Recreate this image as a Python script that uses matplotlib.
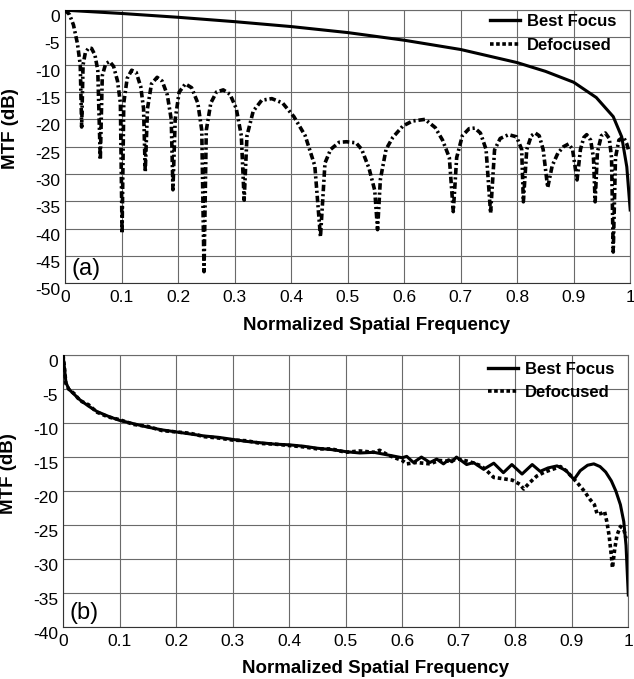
import numpy as np
import matplotlib.pyplot as plt
from matplotlib.lines import Line2D

plt.rcParams['font.family'] = ['Liberation Sans', 'DejaVu Sans']
plt.rcParams['axes.unicode_minus'] = False

# ---- panel (a): MTF at best focus vs defocused ----
a_best_x = [0, 0.1, 0.2, 0.3, 0.4, 0.5, 0.6, 0.7, 0.8, 0.85, 0.9, 0.94, 0.97, 0.985, 0.994, 1.0]
a_best_y = [0, -0.6, -1.3, -2.1, -3.0, -4.1, -5.5, -7.2, -9.6, -11.2, -13.2, -16.0, -19.5, -23.2, -28.7, -36.6]

a_defoc_x = [0, 0.008, 0.015, 0.022, 0.027, 0.0295, 0.032, 0.036, 0.042, 0.047, 0.053, 0.058, 0.0625,
             0.066, 0.072, 0.079, 0.086, 0.093, 0.098, 0.101, 0.104, 0.110, 0.118, 0.126, 0.134, 0.139,
             0.142, 0.146, 0.153, 0.163, 0.172, 0.181, 0.188, 0.191, 0.195, 0.202, 0.213, 0.224, 0.235,
             0.242, 0.246, 0.250, 0.258, 0.268, 0.280, 0.292, 0.303, 0.312, 0.317, 0.322, 0.333, 0.348,
             0.366, 0.385, 0.405, 0.425, 0.442, 0.452, 0.460, 0.470, 0.485, 0.498, 0.515, 0.525, 0.538,
             0.548, 0.553, 0.558, 0.568, 0.580, 0.598, 0.615, 0.637, 0.655, 0.668, 0.680, 0.687, 0.693,
             0.703, 0.715, 0.725, 0.735, 0.745, 0.753, 0.760, 0.770, 0.785, 0.799, 0.808, 0.811, 0.817,
             0.825, 0.832, 0.839, 0.846, 0.854, 0.862, 0.872, 0.882, 0.891, 0.898, 0.906, 0.912, 0.918,
             0.923, 0.930, 0.935, 0.938, 0.942, 0.949, 0.956, 0.963, 0.967, 0.970, 0.974, 0.980, 0.988,
             0.994, 0.998]
a_defoc_y = [0, -0.8, -2.7, -6.1, -10, -21.4, -10, -7.8, -6.9, -7.0, -8.2, -11, -27.4,
             -12, -9.8, -9.4, -10.3, -13, -17, -40.9, -17, -12.5, -11, -11.4, -14, -18,
             -29.6, -18, -13.5, -12.3, -13, -15.5, -20, -32.9, -20, -15, -13.5, -14.2, -17,
             -22, -47.9, -22, -17, -15, -14.6, -15.4, -18, -23, -34.8, -23, -18.5, -16.5,
             -16.2, -17, -19.5, -23, -28.5, -41.5, -28, -25.5, -24.2, -24.1, -24.3, -25.5, -29,
             -33, -40.2, -31, -25.5, -23.3, -21.2, -20.3, -20.0, -21.5, -23.8, -27, -36.9, -27,
             -23, -21.7, -21.6, -22.5, -25.5, -37.2, -25.6, -23.5, -22.8, -23.2, -25.5, -35.1, -25.5,
             -23, -22.5, -23, -25.5, -32.5, -28.5, -26.2, -25, -24.5, -25.5, -31.1, -25.5, -23.3,
             -22.8, -23.8, -27, -35.1, -26, -23, -22.5, -23.5, -27, -44.3, -27, -23.8, -23.2,
             -24.5, -26]

# ---- panel (b) ----
b_best_x = [0, 0.002, 0.005, 0.010, 0.02, 0.03, 0.045, 0.06, 0.08, 0.1, 0.125, 0.15, 0.175, 0.2,
            0.225, 0.25, 0.275, 0.3, 0.325, 0.35, 0.375, 0.4, 0.425, 0.45, 0.475, 0.5, 0.525, 0.55,
            0.575, 0.6, 0.608, 0.620, 0.634, 0.649, 0.661, 0.673, 0.682, 0.688, 0.696, 0.714, 0.726,
            0.744, 0.762, 0.779, 0.794, 0.812, 0.830, 0.844, 0.858, 0.874, 0.89, 0.904, 0.915, 0.928,
            0.939, 0.950, 0.960, 0.970, 0.978, 0.986, 0.992, 0.996, 1.0]
b_best_y = [0, -1.5, -4.0, -5.0, -5.8, -6.6, -7.5, -8.3, -9.0, -9.6, -10.1, -10.6, -11.0, -11.3,
            -11.6, -11.9, -12.1, -12.4, -12.7, -12.9, -13.1, -13.2, -13.4, -13.7, -13.9, -14.2, -14.4, -14.3,
            -14.7, -15.1, -14.9, -15.8, -15.0, -15.8, -15.3, -16.0, -15.4, -15.7, -15.0, -16.1, -15.8,
            -16.8, -15.9, -17.3, -16.1, -17.5, -16.1, -17.1, -16.6, -16.3, -17.0, -18.3, -17.0, -16.2,
            -16.0, -16.4, -17.2, -18.5, -20.0, -22.0, -24.5, -28.0, -35.3]

b_defoc_x = [0, 0.002, 0.005, 0.010, 0.02, 0.03, 0.045, 0.06, 0.08, 0.1, 0.125, 0.15, 0.175, 0.2,
             0.225, 0.25, 0.275, 0.3, 0.325, 0.35, 0.375, 0.4, 0.425, 0.45, 0.475, 0.5, 0.525, 0.55,
             0.56, 0.575, 0.59, 0.600, 0.608, 0.625, 0.649, 0.665, 0.680, 0.700, 0.720, 0.740, 0.752,
             0.762, 0.780, 0.795, 0.808, 0.815, 0.825, 0.838, 0.852, 0.866, 0.880, 0.890, 0.900, 0.912,
             0.922, 0.932, 0.940, 0.945, 0.952, 0.958, 0.962, 0.966, 0.970, 0.972, 0.976, 0.980, 0.986,
             0.992, 0.996]
b_defoc_y = [0, -1.5, -4.2, -5.0, -5.7, -6.7, -7.3, -8.4, -9.1, -9.5, -10.2, -10.5, -11.1, -11.3,
             -11.5, -12.0, -12.2, -12.5, -12.6, -13.0, -13.1, -13.3, -13.5, -13.8, -13.8, -14.3, -14.1, -14.3,
             -14.0, -14.7, -15.2, -15.5, -16.0, -15.8, -16.0, -15.5, -15.6, -15.3, -15.7, -16.3, -17.2,
             -18.0, -18.2, -18.4, -19.0, -19.7, -18.8, -17.8, -17.2, -16.8, -16.4, -17.0, -17.9, -19.0,
             -20.0, -21.2, -22.0, -23.4, -23.3, -23.0, -24.5, -26.5, -29.5, -31.3, -28.5, -26.5, -25.2,
             -25.6, -27.0]

x_ticks = [0, 0.1, 0.2, 0.3, 0.4, 0.5, 0.6, 0.7, 0.8, 0.9, 1]
x_ticklabels = ['0', '0.1', '0.2', '0.3', '0.4', '0.5', '0.6', '0.7', '0.8', '0.9', '1']

fig = plt.figure(figsize=(6.34, 6.79), dpi=100)
ax_a = fig.add_axes([0.1025, 0.583, 0.8915, 0.402])
ax_b = fig.add_axes([0.0995, 0.0766, 0.8915, 0.4004])

grid_col = '#6a6a6a'


def style_axes(ax, ymin, panel_label, label_y, leg_top):
    ax.set_xlim(0, 1)
    ax.set_ylim(ymin, 0)
    ax.set_xticks(x_ticks)
    ax.set_xticklabels(x_ticklabels)
    ax.set_yticks(np.arange(ymin, 1, 5))
    ax.tick_params(length=0, labelsize=12.5, colors='black')
    ax.tick_params(axis='x', pad=5)
    ax.tick_params(axis='y', pad=3.5)
    for lab in ax.get_yticklabels():
        lab.set_va('top')
    ax.grid(True, color=grid_col, lw=0.8)
    for sp in ax.spines.values():
        sp.set_color(grid_col)
        sp.set_linewidth(0.8)
    ax.spines['left'].set_color('#333333')
    ax.spines['bottom'].set_color('#333333')
    ax.set_xlabel('Normalized Spatial Frequency', fontsize=13.5, fontweight='bold', va='top')
    ax.xaxis.set_label_coords(0.552, -0.123)
    ax.set_ylabel('MTF (dB)', fontsize=13.5, fontweight='bold')
    ax.yaxis.set_label_coords(-0.082, label_y)
    ax.text(0.012, 0.03, panel_label, transform=ax.transAxes, fontsize=17, va='baseline')
    handles = [Line2D([], [], color='black', lw=2.4),
               Line2D([], [], color='black', lw=2.6, linestyle=(0, (1, 0.7)))]
    ax.legend(handles, ['Best Focus', 'Defocused'], loc='upper left',
              bbox_to_anchor=(0.752, leg_top), frameon=False, borderpad=0, borderaxespad=0,
              handlelength=1.8, handletextpad=0.4, labelspacing=0.5,
              prop={'weight': 'bold', 'size': 12})


ax_a.plot(a_best_x, a_best_y, color='black', lw=2.2, zorder=3)
ax_a.plot(a_defoc_x, a_defoc_y, color='black', lw=2.6, linestyle=(0, (1.8, 0.8, 0.6, 0.8)), zorder=3)
style_axes(ax_a, -50, '(a)', 0.568, 0.985)

ax_b.plot(b_best_x, b_best_y, color='black', lw=2.2, zorder=3)
ax_b.plot(b_defoc_x, b_defoc_y, color='black', lw=2.6, linestyle=(0, (1, 0.8)), zorder=3)
style_axes(ax_b, -40, '(b)', 0.5625, 0.975)

fig.savefig('out.png', dpi=100)
